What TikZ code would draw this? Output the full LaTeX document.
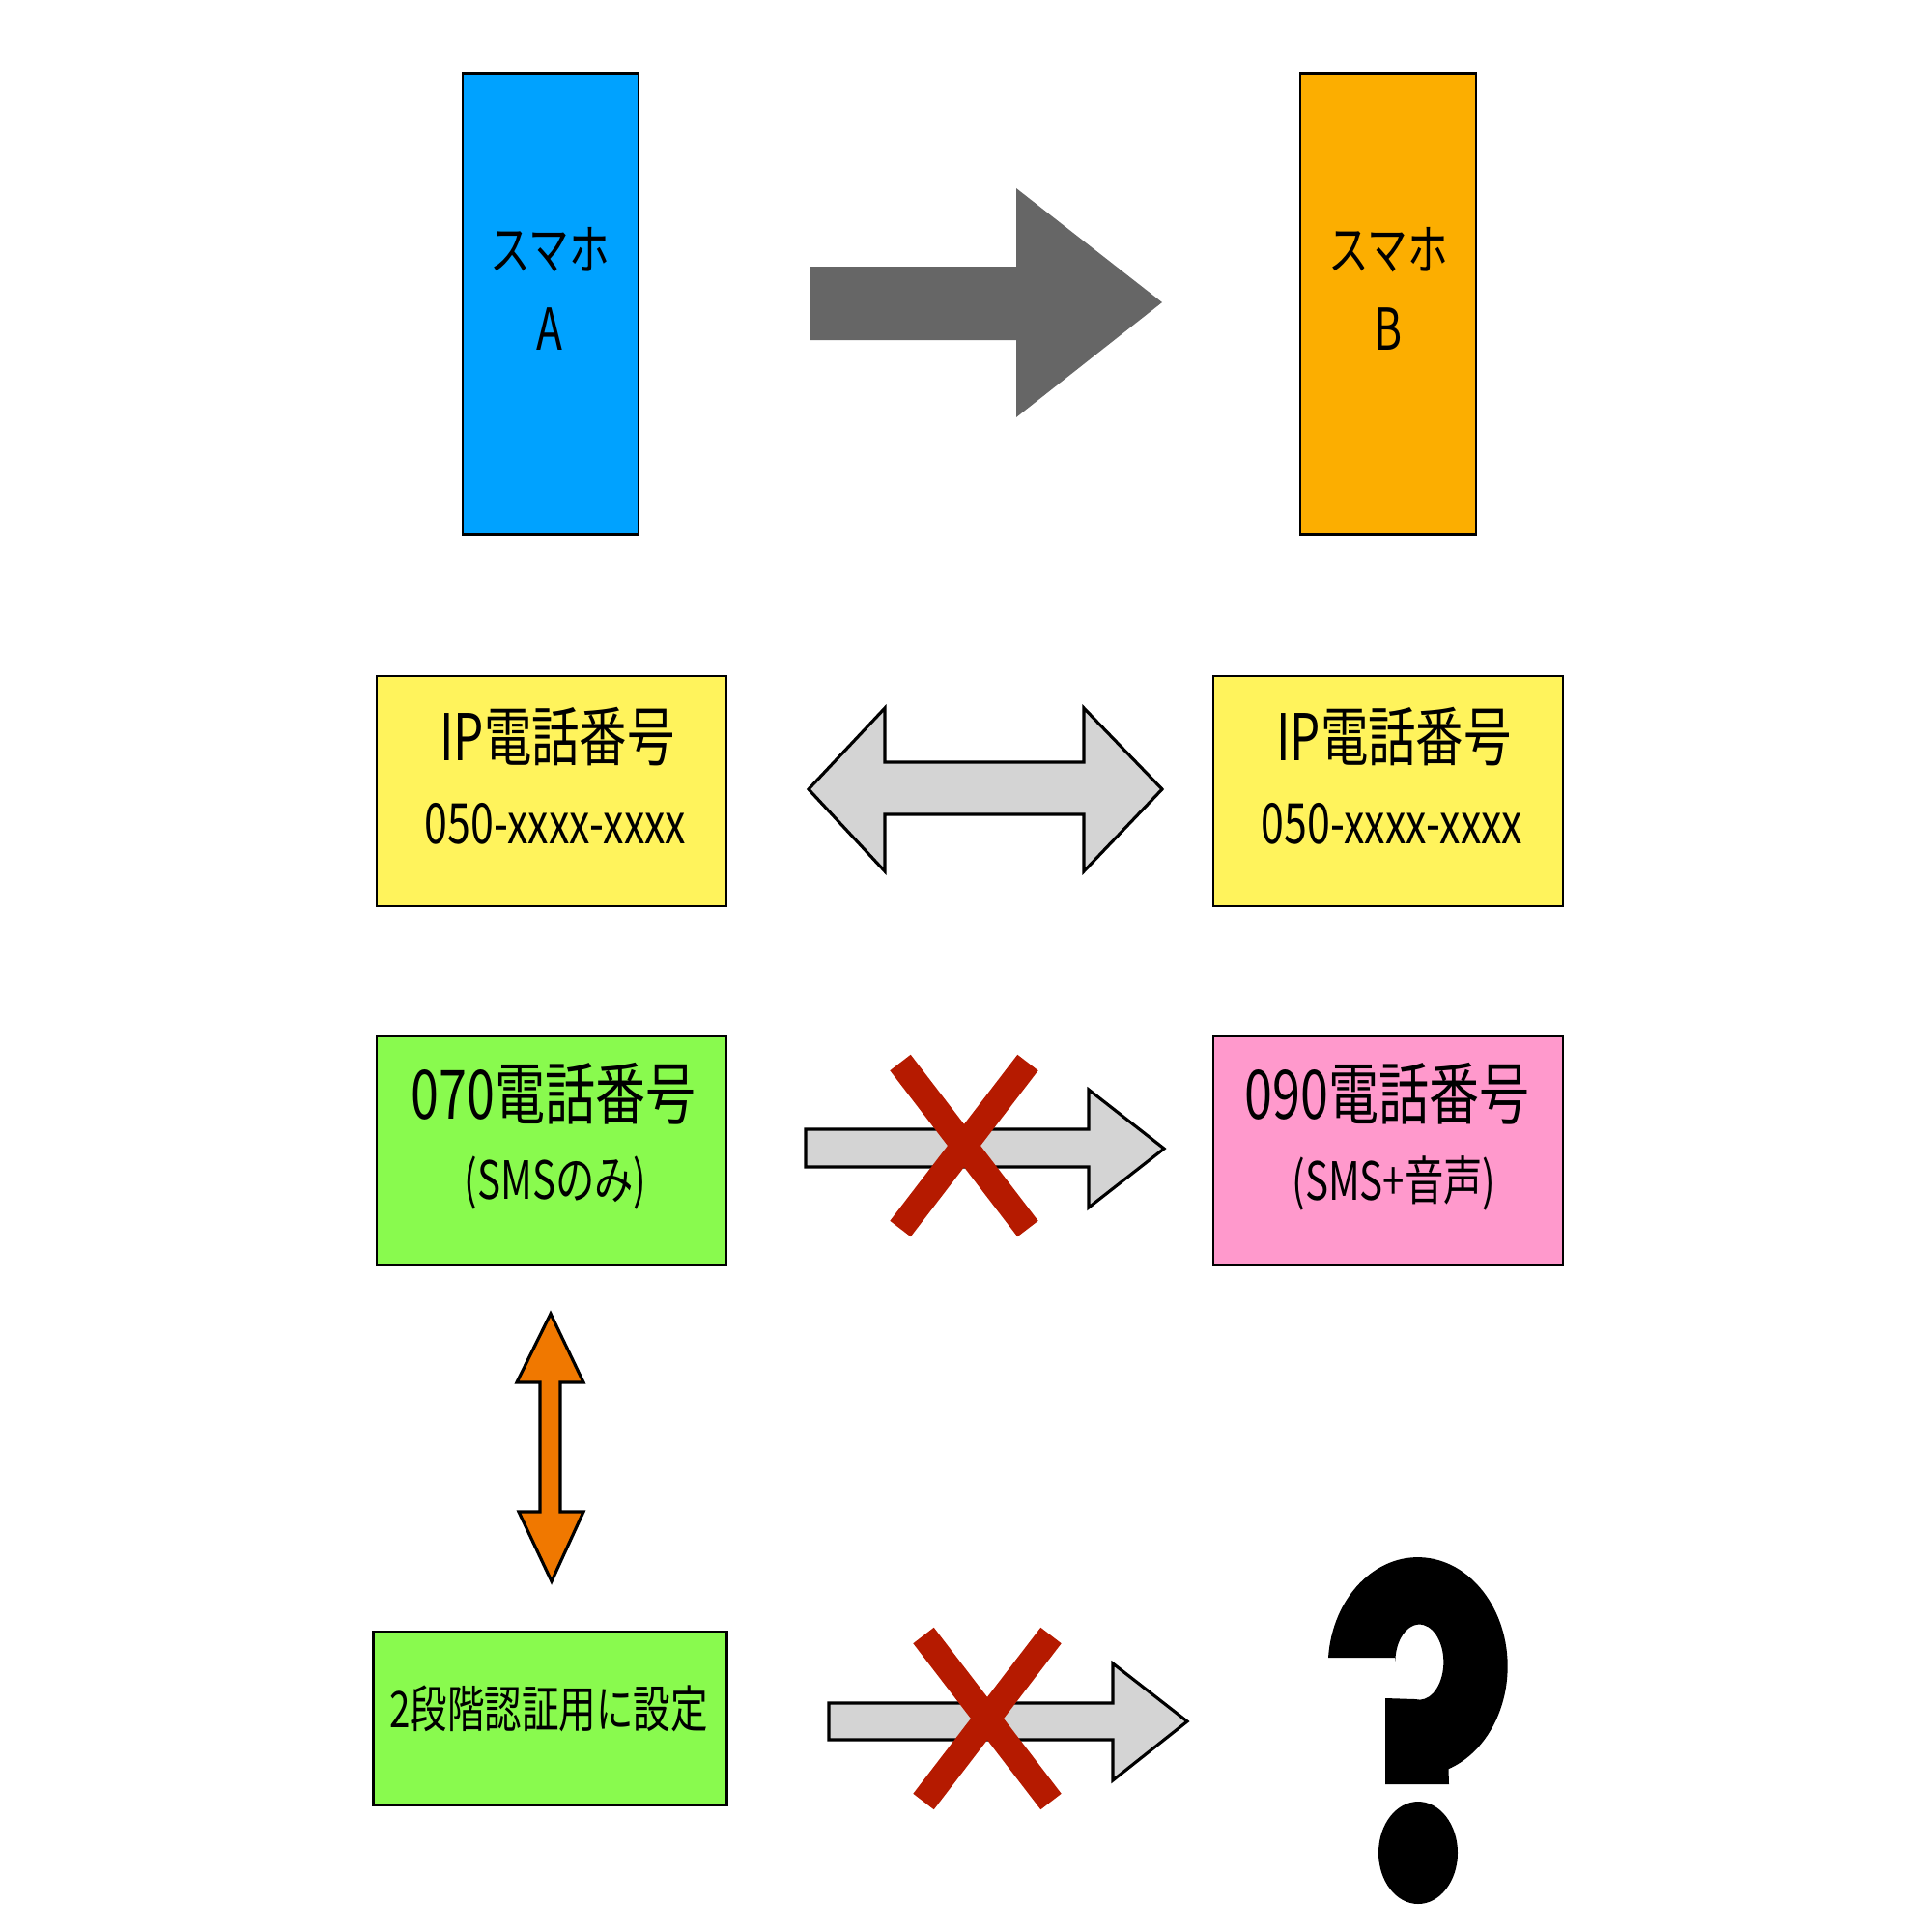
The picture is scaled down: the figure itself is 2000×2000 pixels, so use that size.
\documentclass[tikz,border=0pt]{standalone}
\usepackage{fontspec}
\setmainfont{Noto Sans CJK JP}[FakeStretch=0.74]
\usepackage{tikz}

\definecolor{phblue}{RGB}{0,162,255}
\definecolor{phorange}{RGB}{252,174,0}
\definecolor{ipyellow}{RGB}{255,243,92}
\definecolor{smsgreen}{RGB}{137,250,78}
\definecolor{vpink}{RGB}{255,153,204}
\definecolor{arrdark}{RGB}{102,102,102}
\definecolor{arrlight}{RGB}{212,212,212}
\definecolor{xred}{RGB}{181,26,0}
\definecolor{uporange}{RGB}{240,120,0}

\begin{document}
\begin{tikzpicture}[x=0.01cm, y=-0.01cm,
    phone/.style={draw=black, line width=0.7pt, minimum width=1.82cm, minimum height=4.77cm},
    numbox/.style={draw=black, line width=0.7pt, minimum width=3.62cm, minimum height=2.38cm},
    title/.style={inner sep=0pt, font=\fontsize{20}{24}\selectfont},
    iptitle/.style={inner sep=0pt, font=\fontsize{19}{24}\selectfont},
    sub/.style={inner sep=0pt, font=\fontsize{16.5}{20}\selectfont},
    note/.style={inner sep=0pt, font=\fontsize{15.5}{20}\selectfont},
    blk/.style={draw=black, line width=0.9pt, fill=arrlight},
    cross/.style={draw=xred, line width=0.27cm}]

  \useasboundingbox (0,0) rectangle (2000,2000);

  % phones
  \node[phone, fill=phblue] (phA) at (570,315) {};
  \node[phone, fill=phorange] (phB) at (1437,315) {};
  \node[inner sep=0pt, font=\fontsize{16}{20}\selectfont] (phAname) at (569,259) {スマホ};
  \node[inner sep=0pt, font=\fontsize{17}{20}\selectfont] (phAid) at (569,341) {A};
  \node[inner sep=0pt, font=\fontsize{16}{20}\selectfont] (phBname) at (1437,259) {スマホ};
  \node[inner sep=0pt, font=\fontsize{17}{20}\selectfont] (phBid) at (1437,341) {B};

  % number boxes
  \node[numbox, fill=ipyellow] (ipA) at (571,819) {};
  \node[numbox, fill=ipyellow] (ipB) at (1437,819) {};
  \node[numbox, fill=smsgreen] (sms) at (571,1191) {};
  \node[numbox, fill=vpink] (voice) at (1437,1191) {};
  \node[draw=black, line width=0.7pt, fill=smsgreen, minimum width=3.66cm, minimum height=1.80cm] (twofa) at (569.5,1779) {};

  \node[iptitle] (ipAtitle) at (577,763) {IP電話番号};
  \node[sub] (ipAnum) at (575,853) {050-xxxx-xxxx};
  \node[iptitle] (ipBtitle) at (1443,763) {IP電話番号};
  \node[sub] (ipBnum) at (1441,853) {050-xxxx-xxxx};
  \node[title] (smstitle) at (573,1132) {070電話番号};
  \node[note] (smsnote) at (575,1225) {(SMSのみ)};
  \node[title] (voicetitle) at (1436,1132) {090電話番号};
  \node[note] (voicenote) at (1443,1225) {(SMS+音声)};
  \node[inner sep=0pt, font=\fontsize{14.8}{18}\selectfont] (twofatxt) at (568,1769) {2段階認証用に設定};

  % arrows
  \fill[arrdark] (839,276) -- (1052,276) -- (1052,195) -- (1203,313) -- (1052,432) -- (1052,352) -- (839,352) -- cycle;
  \draw[blk] (837,817) -- (916,733) -- (916,789) -- (1122,789) -- (1122,733) -- (1203,817)
    -- (1122,902) -- (1122,843) -- (916,843) -- (916,902) -- cycle;
  \draw[blk] (834,1169) -- (1127,1169) -- (1127,1128) -- (1205,1189) -- (1127,1250) -- (1127,1208) -- (834,1208) -- cycle;
  \draw[blk] (858,1763) -- (1152,1763) -- (1152,1722) -- (1229,1782) -- (1152,1843) -- (1152,1801) -- (858,1801) -- cycle;
  \draw[blk, fill=uporange] (570,1360) -- (604,1431) -- (580,1431) -- (580,1565) -- (604,1565) -- (571,1637)
    -- (537,1565) -- (559,1565) -- (559,1431) -- (535,1431) -- cycle;

  % crosses
  \draw[cross] (932,1100) -- (1064,1272);
  \draw[cross] (1064,1100) -- (932,1272);
  \draw[cross] (956,1693) -- (1088,1865);
  \draw[cross] (1088,1693) -- (956,1865);

  % question mark
  \fill (1375,1716) arc[start angle=184.6, end angle=430, x radius=93, y radius=113]
    -- (1500,1847) -- (1434,1847) -- (1434,1758) -- (1465,1759)
    arc[start angle=100, end angle=-180, x radius=25, y radius=39] -- (1444,1716) -- cycle;
  \fill (1468,1918) ellipse[x radius=41, y radius=53];

\end{tikzpicture}
\end{document}
